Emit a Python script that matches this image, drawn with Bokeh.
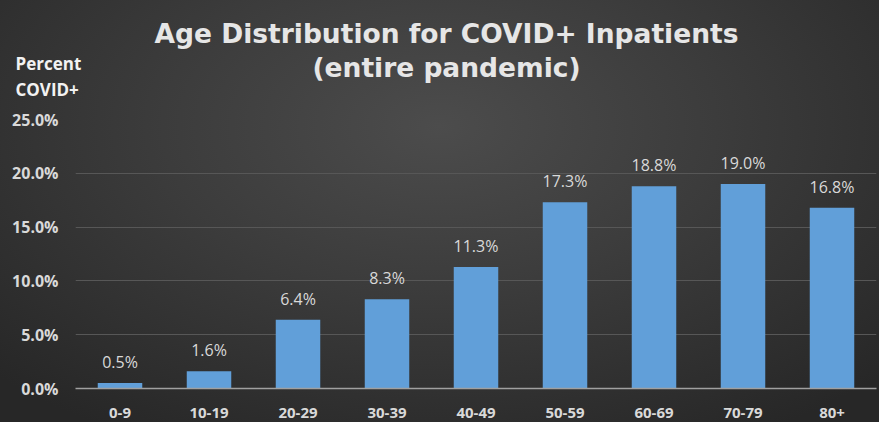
from bokeh.plotting import figure
from bokeh.models import ColumnDataSource, LabelSet, Label, Range1d, CustomJSTickFormatter
from bokeh.core.properties import value
from bokeh.embed import file_html
from bokeh.resources import INLINE

categories = ["0-9", "10-19", "20-29", "30-39", "40-49", "50-59", "60-69", "70-79", "80+"]
percent = [0.5, 1.6, 6.4, 8.3, 11.3, 17.3, 18.8, 19.0, 16.8]
y_ticks = [0, 5, 10, 15, 20, 25]
title_lines = ["Age Distribution for COVID+ Inpatients", "(entire pandemic)"]
y_title_lines = ["Percent", "COVID+"]

source = ColumnDataSource(dict(cat=categories, val=percent, lbl=[f"{v:.1f}%" for v in percent]))

p = figure(x_range=categories, y_range=Range1d(0, 25), width=879, height=422,
           output_backend="svg", toolbar_location=None, title=None,
           min_border_left=75, min_border_right=3, min_border_top=119, min_border_bottom=34)
p.styles = {"background": "radial-gradient(ellipse 70% 85% at 50% 30%, #4c4c4c 0%, #3c3c3c 45%, #272727 100%)"}
p.border_fill_color = None
p.background_fill_color = None
p.outline_line_color = None

p.vbar(x="cat", top="val", width=0.5, source=source, fill_color="#619fd9", line_color=None)

TXT = "#d9d9d9"
FONT = "Open Sans"
TFONT = "DejaVu Sans"

p.yaxis.ticker = y_ticks
p.yaxis.formatter = CustomJSTickFormatter(code="return tick.toFixed(1) + '%';")
p.yaxis.axis_line_color = None
p.yaxis.major_tick_line_color = None
p.yaxis.minor_tick_line_color = None
p.yaxis.major_label_text_color = TXT
p.yaxis.major_label_text_font = FONT
p.yaxis.major_label_text_font_style = "bold"
p.yaxis.major_label_text_font_size = "16px"
p.yaxis.major_label_standoff = 11

p.xaxis.axis_line_color = "#a0a0a0"
p.xaxis.axis_line_width = 1.5
p.xaxis.major_tick_line_color = None
p.xaxis.minor_tick_line_color = None
p.xaxis.major_label_text_color = TXT
p.xaxis.major_label_text_font = FONT
p.xaxis.major_label_text_font_style = "bold"
p.xaxis.major_label_text_font_size = "15px"
p.xaxis.major_label_standoff = 13

p.xgrid.grid_line_color = None
p.ygrid.grid_line_color = "#575757"
p.ygrid.grid_line_width = 1

labels = LabelSet(x="cat", y="val", text="lbl", source=source, text_align="center",
                  text_baseline="alphabetic", y_offset=15, text_color=TXT,
                  text_font=value(FONT), text_font_size="16px")
p.add_layout(labels)

# side-panel labels (first added sits closest to the plot frame)
a2 = Label(x=-60, y=19, x_units="screen", y_units="screen", text=y_title_lines[1],
           text_align="left", text_baseline="bottom", text_color="#f2f2f2",
           text_font=FONT, text_font_style="bold", text_font_size="17px")
a1 = Label(x=-60, y=22, x_units="screen", y_units="screen", text=y_title_lines[0],
           text_align="left", text_baseline="bottom", text_color="#f2f2f2",
           text_font=FONT, text_font_style="bold", text_font_size="17px")
t2 = Label(x=371, y=-9, x_units="screen", y_units="screen", text=title_lines[1],
           text_align="center", text_baseline="bottom", text_color="#e6e6e6",
           text_font=TFONT, text_font_style="bold", text_font_size="26.5px")
t1 = Label(x=371, y=-6, x_units="screen", y_units="screen", text=title_lines[0],
           text_align="center", text_baseline="bottom", text_color="#e6e6e6",
           text_font=TFONT, text_font_style="bold", text_font_size="26.5px")
for lab in (a2, a1, t2, t1):
    p.add_layout(lab, "above")

open("out.html", "w").write(file_html(p, INLINE))
